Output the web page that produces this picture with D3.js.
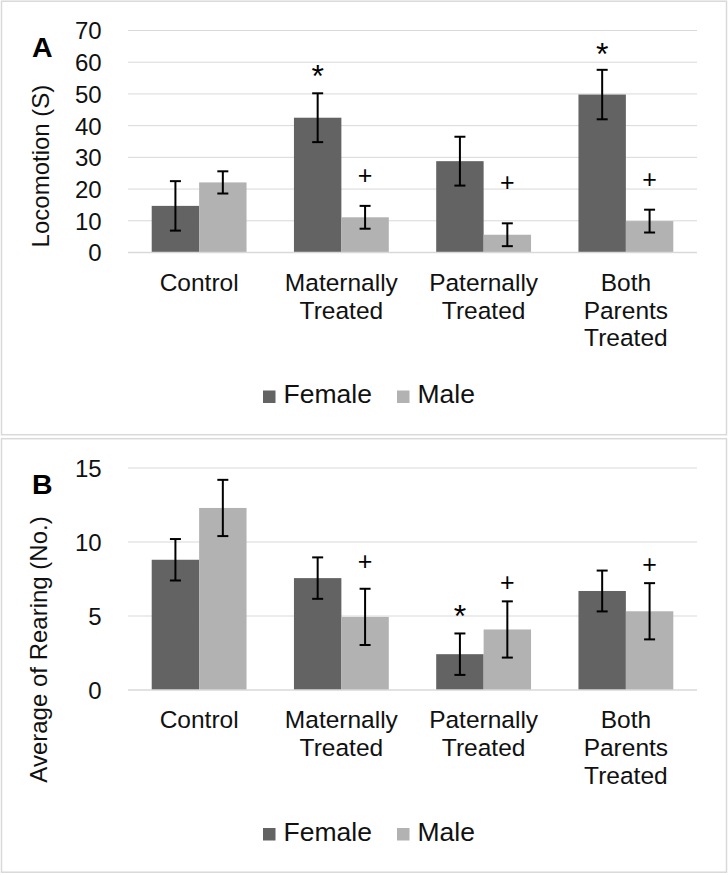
<!DOCTYPE html>
<html>
<head>
<meta charset="utf-8">
<script src="https://cdn.jsdelivr.net/npm/d3@7"></script>
<style>
  html, body { margin: 0; padding: 0; background: #fff; }
  svg { display: block; font-family: "Liberation Sans", Arial, sans-serif; }
</style>
</head>
<body>
<div id="app"></div>
<script>
const categories = ["Control", "Maternally\nTreated", "Paternally\nTreated", "Both\nParents\nTreated"]
const series = ["Female", "Male"]
const colors = ["#636363", "#b2b2b2"]

// panel A - locomotion
const locoFemale = [14.7, 42.5, 28.8, 49.8]
const locoFemaleErr = [7.8, 7.7, 7.7, 7.8]
const locoMale = [22.1, 11.1, 5.6, 9.9]
const locoMaleErr = [3.5, 3.6, 3.6, 3.6]
const locoTicks = [0, 10, 20, 30, 40, 50, 60, 70]
// significance marks: [category, series, symbol, height in data units]
const locoMarks = [
    [1, 0, "*", 56.9],
    [1, 1, "+", 24.4],
    [2, 1, "+", 22.3],
    [3, 0, "*", 63.9],
    [3, 1, "+", 23.1],
]

// panel B - rearing
const rearFemale = [8.8, 7.56, 2.42, 6.69]
const rearFemaleErr = [1.4, 1.4, 1.4, 1.38]
const rearMale = [12.3, 4.94, 4.09, 5.32]
const rearMaleErr = [1.9, 1.9, 1.9, 1.9]
const rearTicks = [0, 5, 10, 15]
const rearMarks = [
    [1, 1, "+", 8.75],
    [2, 0, "*", 5.25],
    [2, 1, "+", 7.29],
    [3, 1, "+", 8.48],
]

const width = 728, height = 875
const panelStep = 437.5

const svg = d3.select('#app').append('svg')
    .attr('width', width)
    .attr('height', height)

svg.append('rect').attr('width', width).attr('height', height).attr('fill', '#fff')

const panels = [
    {
        letter: "A", title: "Locomotion (S)", titleX: 49, titleY: 166,
        max: 70, ticks: locoTicks, marks: locoMarks,
        values: [locoFemale, locoMale], errs: [locoFemaleErr, locoMaleErr],
    },
    {
        letter: "B", title: "Average of Rearing (No.)", titleX: 46.5, titleY: 212,
        max: 15, ticks: rearTicks, marks: rearMarks,
        values: [rearFemale, rearMale], errs: [rearFemaleErr, rearMaleErr],
    },
]

panels.forEach((p, i) => drawPanel(svg.append('g').attr('transform', `translate(0,${i * panelStep})`), p))

function drawPanel(g, p) {
    const left = 128, right = 697, top = 30.5, bottom = 252.5

    // frame
    g.append('rect')
        .attr('x', 1.5).attr('y', 1.2)
        .attr('width', 725).attr('height', 433.5)
        .attr('fill', 'none')
        .attr('stroke', '#d9d9d9')
        .attr('stroke-width', 1.5)

    const x0 = d3.scaleBand()
        .domain(d3.range(categories.length))
        .range([left, right])
        .paddingInner(1 / 3)
        .paddingOuter(1 / 6)

    const x1 = d3.scaleBand()
        .domain(d3.range(series.length))
        .range([0, x0.bandwidth()])

    const y = d3.scaleLinear()
        .domain([0, p.max])
        .range([bottom, top])

    // gridlines
    g.append('g')
        .selectAll('line')
        .data(p.ticks.filter(t => t > 0))
        .join('line')
        .attr('x1', left).attr('x2', right)
        .attr('y1', d => y(d)).attr('y2', d => y(d))
        .attr('stroke', '#d9d9d9')
        .attr('stroke-width', 1)

    // y axis labels
    const yAxis = d3.axisLeft(y).tickValues(p.ticks).tickSize(0).tickPadding(0)
    const ya = g.append('g')
        .attr('transform', `translate(101.7,0)`)
        .call(yAxis)
    ya.select('.domain').remove()
    ya.selectAll('text')
        .attr('font-size', 24)
        .attr('font-family', '"Liberation Sans", Arial, sans-serif')
        .attr('fill', '#111')
        .attr('dy', '0.35em')

    // bars
    const rows = []
    categories.forEach((c, ci) => series.forEach((s, si) => {
        rows.push({ci, si, v: p.values[si][ci], e: p.errs[si][ci]})
    }))

    g.append('g')
        .selectAll('rect')
        .data(rows)
        .join('rect')
        .attr('x', d => x0(d.ci) + x1(d.si))
        .attr('width', x1.bandwidth())
        .attr('y', d => y(d.v))
        .attr('height', d => y(0) - y(d.v))
        .attr('fill', d => colors[d.si])

    // x axis line
    g.append('line')
        .attr('x1', left).attr('x2', right)
        .attr('y1', y(0)).attr('y2', y(0))
        .attr('stroke', '#d9d9d9')
        .attr('stroke-width', 1.5)

    // error bars
    const eb = g.append('g')
        .attr('stroke', '#000')
        .attr('stroke-width', 2)
        .selectAll('g')
        .data(rows)
        .join('g')
        .attr('transform', d => `translate(${x0(d.ci) + x1(d.si) + x1.bandwidth() / 2},0)`)
    eb.append('line')
        .attr('y1', d => y(d.v + d.e)).attr('y2', d => y(d.v - d.e))
    eb.append('line')
        .attr('x1', -5.5).attr('x2', 5.5)
        .attr('y1', d => y(d.v + d.e)).attr('y2', d => y(d.v + d.e))
    eb.append('line')
        .attr('x1', -5.5).attr('x2', 5.5)
        .attr('y1', d => y(d.v - d.e)).attr('y2', d => y(d.v - d.e))

    // significance marks
    g.append('g')
        .selectAll('text')
        .data(p.marks)
        .join('text')
        .attr('x', d => x0(d[0]) + x1(d[1]) + x1.bandwidth() / 2)
        .attr('y', d => y(d[3]))
        .attr('dy', d => d[2] === '*' ? '0.46em' : '0.36em')
        .attr('text-anchor', 'middle')
        .attr('font-size', d => d[2] === '*' ? 32 : 25)
        .attr('fill', '#000')
        .text(d => d[2])

    // category labels
    g.append('g')
        .selectAll('text')
        .data(categories)
        .join('text')
        .attr('x', (d, i) => x0(i) + x0.bandwidth() / 2)
        .attr('y', bottom + 38.2)
        .attr('text-anchor', 'middle')
        .attr('font-size', 24.5)
        .attr('fill', '#111')
        .selectAll('tspan')
        .data(d => d.split('\n'))
        .join('tspan')
        .attr('x', function () { return this.parentNode.getAttribute('x') })
        .attr('dy', (d, i) => i === 0 ? 0 : 27.8)
        .text(d => d)

    // y title
    g.append('text')
        .attr('transform', `translate(${p.titleX},${p.titleY}) rotate(-90)`)
        .attr('text-anchor', 'middle')
        .attr('font-size', 24)
        .attr('fill', '#111')
        .text(p.title)

    // panel letter
    g.append('text')
        .attr('x', 32).attr('y', 56.7)
        .attr('font-size', 28.5)
        .attr('font-weight', 'bold')
        .attr('fill', '#000')
        .text(p.letter)

    // legend
    const legX = [263, 397]
    const leg = g.append('g')
        .selectAll('g')
        .data(series)
        .join('g')
        .attr('transform', (d, i) => `translate(${legX[i]},0)`)
    leg.append('rect')
        .attr('y', 390.5)
        .attr('width', 12.5).attr('height', 12.5)
        .attr('fill', (d, i) => colors[i])
    leg.append('text')
        .attr('x', 20.5)
        .attr('y', 403.3)
        .attr('font-size', 26.5)
        .attr('fill', '#111')
        .text(d => d)
}
</script>
</body>
</html>
